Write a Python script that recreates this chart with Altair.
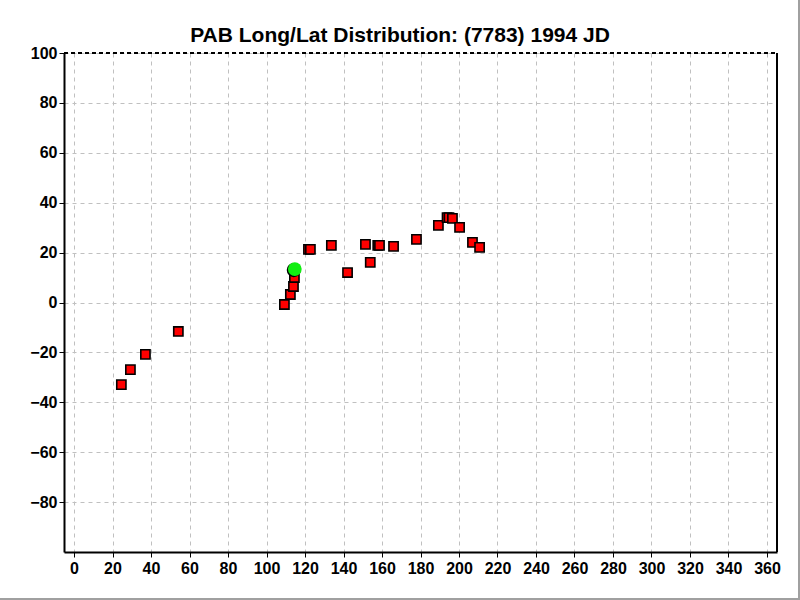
import altair as alt
import pandas as pd

# Observed positions (longitude, latitude)
lon = [24.6, 29.3, 37.1, 54.2, 109.3, 112.4, 114.0, 114.5, 121.8, 122.8, 133.7,
       142.1, 151.4, 153.9, 157.8, 158.7, 166.0, 177.9, 189.3, 193.8, 194.8,
       196.6, 200.3, 207.0, 210.7]
lat = [-32.9, -26.9, -20.8, -11.6, -0.8, 3.2, 6.4, 10.0, 21.3, 21.3, 22.9,
       12.0, 23.3, 16.1, 22.9, 22.9, 22.5, 25.3, 30.9, 34.0, 34.0,
       33.7, 30.1, 24.1, 22.1]
cur_lon = [114.7]
cur_lat = [13.4]

title_text = ["PAB Long/Lat Distribution: (7783) 1994 JD"]
x_ticks = list(range(0, 361, 20))
y_ticks = list(range(-80, 101, 20))

df = pd.DataFrame({"lon": lon, "lat": lat})
cur = pd.DataFrame({"lon": cur_lon, "lat": cur_lat})
tdf = pd.DataFrame({"t": title_text})

W, H = 713, 499
FONT = "Liberation Sans"

xs = alt.Scale(domain=[-5.2, 365.2], nice=False, zero=False)
ys = alt.Scale(domain=[-100, 100], nice=False, zero=False)

x_axis = alt.Axis(values=x_ticks, tickCount=19, title=None, grid=True, gridColor="#c0c0c0",
                  gridDash=[4, 4], gridWidth=1, domainColor="black", domainWidth=2,
                  tickColor="black", tickSize=5, labelFont=FONT, labelFontSize=16,
                  labelFontWeight="bold", labelColor="black", labelPadding=3,
                  labelOverlap=False, labelSeparation=0)
y_axis = alt.Axis(values=y_ticks, title=None, grid=True, gridColor="#c0c0c0",
                  gridDash=[4, 4], gridWidth=1, domainColor="black", domainWidth=2,
                  tickColor="black", tickSize=5, labelFont=FONT, labelFontSize=16,
                  labelFontWeight="bold", labelColor="black", labelPadding=2,
                  labelOverlap=False)

X = alt.X("lon:Q", scale=xs, axis=x_axis)
Y = alt.Y("lat:Q", scale=ys, axis=y_axis)

squares = alt.Chart(df).mark_square(
    size=85, color="#ff0000", opacity=1, stroke="black", strokeWidth=1.6
).encode(x=X, y=Y)

shadow = alt.Chart(cur).mark_circle(
    size=200, color="black", opacity=1, xOffset=-1, yOffset=1
).encode(x=X, y=Y)

green = alt.Chart(cur).mark_circle(
    size=190, color="#11ee11", opacity=1
).encode(x=X, y=Y)

title = alt.Chart(tdf).mark_text(
    font=FONT, fontSize=21, fontWeight="bold", color="black",
    align="center", baseline="middle", clip=False
).encode(text="t:N", x=alt.value(336), y=alt.value(-17))

right_edge = alt.Chart(df).mark_rule(color="black", strokeWidth=2).encode(
    x=alt.value(W), y=alt.value(0), y2=alt.value(H))
top_edge = alt.Chart(df).mark_rule(color="black", strokeWidth=1, strokeDash=[4, 3]).encode(
    x=alt.value(0), x2=alt.value(W), y=alt.value(0))
frame_r = alt.Chart(df).mark_rule(color="#a0a0a0", strokeWidth=2, clip=False).encode(
    x=alt.value(735), y=alt.value(-53), y2=alt.value(547))
frame_b = alt.Chart(df).mark_rule(color="#a0a0a0", strokeWidth=2, clip=False).encode(
    x=alt.value(-64), x2=alt.value(736), y=alt.value(546))

chart = alt.layer(squares, shadow, green, title, right_edge, top_edge, frame_r, frame_b).properties(
    width=W, height=H,
    padding={"left": 64, "top": 53, "right": 23, "bottom": 48},
    autosize=alt.AutoSizeParams(type="none"),
    background="white",
).configure_view(stroke=None)

chart.save("out.html", embed_options={"renderer": "svg", "actions": False})
